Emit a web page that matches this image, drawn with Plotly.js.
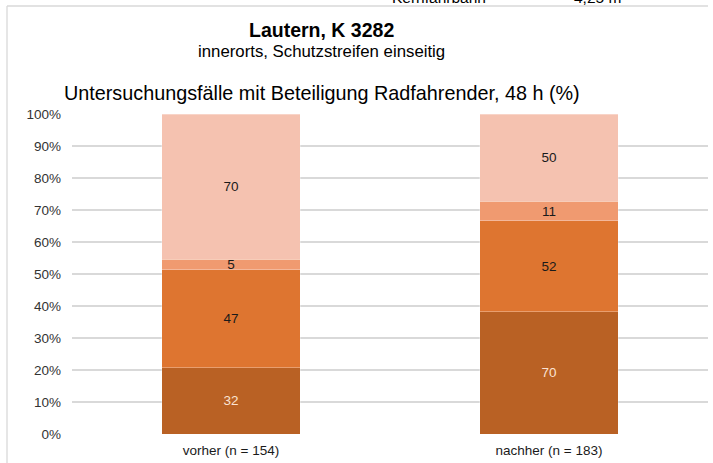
<!DOCTYPE html>
<html>
<head>
<meta charset="utf-8">
<script src="https://cdn.plot.ly/plotly-3.0.1.min.js"></script>
<style>html,body{margin:0;padding:0;background:#fff;}#chart{width:713px;height:463px;}</style>
</head>
<body>
<div id="chart"></div>
<script>
var categories = ["vorher (n = 154)", "nachher (n = 183)"];
var series1 = [32, 70];
var series2 = [47, 52];
var series3 = [5, 11];
var series4 = [70, 50];
var yTicks = [0, 10, 20, 30, 40, 50, 60, 70, 80, 90, 100];

var colors = ["#B96124", "#DE7530", "#F09A70", "#F5C2B0"];
var textColors = [["#FBE3D3", "#FBE3D3"], ["#1a1a1a", "#1a1a1a"], ["#1a1a1a", "#1a1a1a"], ["#1a1a1a", "#1a1a1a"]];
var allSeries = [series1, series2, series3, series4];

var traces = allSeries.map(function (s, i) {
  return {
    type: "bar",
    x: categories,
    y: s,
    text: s.map(String),
    textposition: "inside",
    insidetextanchor: "middle",
    constraintext: "none",
    textangle: 0,
    textfont: {family: "Liberation Sans, Arial, sans-serif", size: 13.5, color: textColors[i]},
    marker: {color: colors[i], line: {width: 0.6, color: "rgba(255,255,255,0.5)"}},
    hoverinfo: "skip",
    showlegend: false
  };
});

var L = 72, R = 5, T = 114, B = 29, W = 713, H = 463;
var pw = W - L - R, ph = H - T - B;
function px(x) { return (x - L) / pw; }
function py(y) { return (H - B - y) / ph; }

var layout = {
  width: W, height: H,
  margin: {l: L, r: R, t: T, b: B, pad: 0},
  paper_bgcolor: "#fff", plot_bgcolor: "#fff",
  barmode: "stack",
  barnorm: "percent",
  bargap: 0.566,
  uniformtext: {mode: "show", minsize: 13.5},
  font: {family: "Liberation Sans, Arial, sans-serif", color: "#404040", size: 13.5},
  xaxis: {
    type: "category", showgrid: false, zeroline: false, showline: false,
    ticks: "", ticklabelstandoff: 6, tickfont: {size: 13.5, color: "#1a1a1a"}, fixedrange: true
  },
  yaxis: {
    range: [0, 100], tickvals: yTicks, ticktext: yTicks.map(function (v) { return v + "%"; }),
    showgrid: true, gridcolor: "#D9D9D9", gridwidth: 1.3, zeroline: false, showline: false,
    ticks: "", ticklen: 0, ticklabelstandoff: 10, tickfont: {size: 13.5, color: "#333333"}, fixedrange: true
  },
  shapes: [
    {type: "line", xref: "paper", yref: "paper", x0: px(7), x1: px(7), y0: py(463), y1: py(6), line: {color: "#D9D9D9", width: 1.3}},
    {type: "line", xref: "paper", yref: "paper", x0: px(7), x1: px(708), y0: py(6), y1: py(6), line: {color: "#D9D9D9", width: 1.3}}
  ],
  annotations: [
    {xref: "paper", yref: "paper", x: px(321), y: py(30), text: "<b>Lautern, K 3282</b>", showarrow: false, xanchor: "center", yanchor: "middle", font: {size: 19.5, color: "#000"}},
    {xref: "paper", yref: "paper", x: px(321), y: py(51), text: "innerorts, Schutzstreifen einseitig", showarrow: false, xanchor: "center", yanchor: "middle", font: {size: 16.8, color: "#000"}},
    {xref: "paper", yref: "paper", x: px(62), y: py(93), text: "Untersuchungsfälle mit Beteiligung Radfahrender, 48 h (%)", showarrow: false, xanchor: "left", yanchor: "middle", font: {size: 19.8, color: "#000"}},
    {xref: "paper", yref: "paper", x: px(390), y: py(-2), text: "Kernfahrbahn", showarrow: false, xanchor: "left", yanchor: "middle", font: {size: 15.5, color: "#000"}},
    {xref: "paper", yref: "paper", x: px(572), y: py(-2), text: "4,25 m", showarrow: false, xanchor: "left", yanchor: "middle", font: {size: 15.5, color: "#000"}}
  ]
};

Plotly.newPlot("chart", traces, layout, {displayModeBar: false, staticPlot: true});
</script>
</body>
</html>
